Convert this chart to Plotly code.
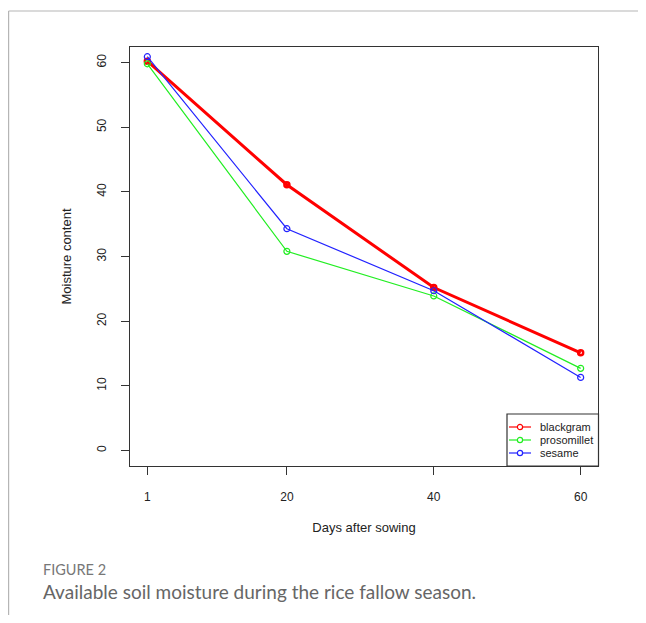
import plotly.graph_objects as go

days = [1, 20, 40, 60]
blackgram = [60.2, 41.1, 25.2, 15.1]
prosomillet = [59.8, 30.8, 23.9, 12.7]
sesame = [60.9, 34.3, 24.7, 11.3]
x_ticks = [1, 20, 40, 60]
y_ticks = [0, 10, 20, 30, 40, 50, 60]
series_names = ["blackgram", "prosomillet", "sesame"]
series_colors = ["#ff0000", "#22ee22", "#2222ff"]

OFF = 8  # default page body margin
W, H = 646 - OFF, 623 - 2 * OFF
L, T = 130 - OFF, 47 - OFF
pw, ph = 468, 419
R = W - L - pw
B = H - T - ph

def px(x):
    return (x - OFF - L) / pw

def py(y):
    return (T + ph - (y - OFF)) / ph

fig = go.Figure()
fig.add_trace(go.Scatter(x=days, y=blackgram, name=series_names[0], mode="lines+markers",
                         line=dict(color=series_colors[0], width=3),
                         marker=dict(symbol="circle-open", size=5, color=series_colors[0], line=dict(width=2.5))))
fig.add_trace(go.Scatter(x=days, y=prosomillet, name=series_names[1], mode="lines+markers",
                         line=dict(color=series_colors[1], width=1.2),
                         marker=dict(symbol="circle-open", size=6, color=series_colors[1], line=dict(width=1.2))))
fig.add_trace(go.Scatter(x=days, y=sesame, name=series_names[2], mode="lines+markers",
                         line=dict(color=series_colors[2], width=1.2),
                         marker=dict(symbol="circle-open", size=6, color=series_colors[2], line=dict(width=1.2))))

axis_font = dict(family="Liberation Sans, Arial, sans-serif", size=12, color="#222222")
title_font = dict(family="Liberation Sans, Arial, sans-serif", size=13, color="#222222")
fig.update_xaxes(range=[-1.36, 62.36], tickvals=x_ticks, ticktext=[str(v) for v in x_ticks],
                 showgrid=False, zeroline=False, showline=True, linecolor="#333333", linewidth=1.2,
                 mirror=True, ticks="outside", ticklen=8, tickcolor="#333333", tickfont=axis_font,
                 ticklabelstandoff=11,
                 title=dict(text="Days after sowing", font=title_font, standoff=20))
fig.update_yaxes(range=[-2.4, 62.4], tickvals=y_ticks, tickangle=-90,
                 showgrid=False, zeroline=False, showline=True, linecolor="#333333", linewidth=1.2,
                 mirror=True, ticks="outside", ticklen=8, tickcolor="#333333", tickfont=axis_font,
                 ticklabelstandoff=10,
                 title=dict(text="Moisture content", font=title_font, standoff=20))

shapes = [
    dict(type="line", xref="paper", yref="paper", x0=px(8.6), x1=px(660), y0=py(11), y1=py(11),
         line=dict(color="#b5b5b5", width=1.2)),
    dict(type="line", xref="paper", yref="paper", x0=px(8.6), x1=px(8.6), y0=py(11), y1=py(640),
         line=dict(color="#b5b5b5", width=1.2)),
    # compact legend box
    dict(type="rect", xref="paper", yref="paper", x0=px(507), x1=px(598.5), y0=py(414), y1=py(466),
         line=dict(color="#333333", width=1.2), fillcolor="white"),
]
annotations = []
legend_rows = [427, 440, 453]
r = 2.6
for name, col, yy in zip(series_names, series_colors, legend_rows):
    shapes.append(dict(type="line", xref="paper", yref="paper", x0=px(509), x1=px(531),
                       y0=py(yy), y1=py(yy), line=dict(color=col, width=1.2)))
    shapes.append(dict(type="circle", xref="paper", yref="paper", x0=px(520 - r), x1=px(520 + r),
                       y0=py(yy + r), y1=py(yy - r), line=dict(color=col, width=1.2), fillcolor="white"))
    annotations.append(dict(text=name, xref="paper", yref="paper", x=px(538), y=py(yy),
                            xanchor="left", yanchor="middle", showarrow=False,
                            font=dict(family="Liberation Sans, Arial, sans-serif", size=11, color="#222222")))

annotations += [
    dict(text="FIGURE 2", xref="paper", yref="paper", x=px(41), y=py(569), xanchor="left", yanchor="middle",
         showarrow=False, font=dict(family="Lato, Open Sans, sans-serif", size=14.5, color="#777777")),
    dict(text="Available soil moisture during the rice fallow season.", xref="paper", yref="paper",
         x=px(41), y=py(591), xanchor="left", yanchor="middle", showarrow=False,
         font=dict(family="Lato, Open Sans, sans-serif", size=19, color="#666666")),
]

fig.update_layout(
    width=W, height=H,
    margin=dict(l=L, r=R, t=T, b=B),
    paper_bgcolor="white", plot_bgcolor="white",
    showlegend=False,
    shapes=shapes,
    annotations=annotations,
)

fig.write_html("out.html")
